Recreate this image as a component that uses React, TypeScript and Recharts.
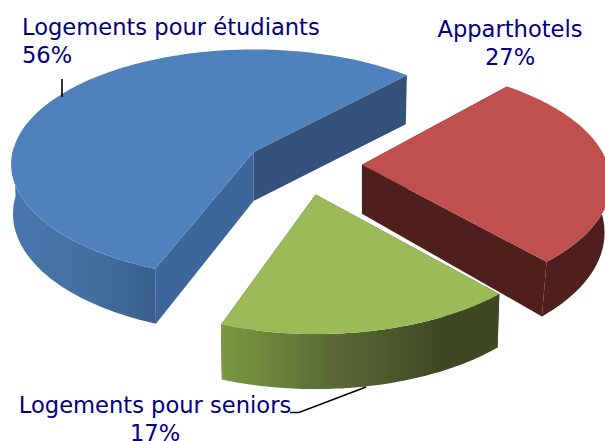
import React from "react";
import { PieChart, Pie } from "recharts";

const categories = ["Logements pour étudiants", "Apparthotels", "Logements pour seniors"];
const shares = [56, 27, 17];
const chartData = categories.map((name, i) => ({ name, value: shares[i] }));

// Drawing parameters of the tilted, exploded pie
const EXPLODE = 60;
const DEPTH = 49;
const RAD = Math.PI / 180;

const looks: Record<string, any> = {
  [categories[0]]: {
    top: "#4f81bd",
    hiFace: "#3d669a",
    loFace: "#33517b",
    wallStops: ["#4776ae", "#43709f", "#39608f"],
    wallRange: [12, 155],
    radiusScale: 0.98,
    tilt: 0.47,
    persp: 0.107,
    rotate: -2.2,
    nudgeY: 0,
    shrink: 0.993,
    depthGain: 60,
  },
  [categories[1]]: {
    top: "#c0504d",
    hiFace: "#4f1f1d",
    loFace: "#4f1f1d",
    wallStops: ["#4f1f1d", "#4f1f1d", "#4f1f1d"],
    wallRange: [540, 605],
    radiusScale: 1,
    tilt: 0.47,
    persp: 0.15,
    rotate: 0,
    nudgeY: 0,
    shrink: 0.975,
    depthGain: 50,
  },
  [categories[2]]: {
    top: "#9bbb59",
    hiFace: "#3f4a24",
    loFace: "#3f4a24",
    wallStops: ["#7b9a42", "#5c6b36", "#3e4923"],
    wallRange: [218, 440],
    radiusScale: 0.995,
    tilt: 0.485,
    persp: 0.15,
    rotate: 0,
    nudgeY: -3,
    shrink: 0.99,
    depthGain: 40,
  },
};

const labelLooks: Record<string, any> = {
  [categories[0]]: { x: 22, y: 35, anchor: "start", leader: "M62 79 L62 97" },
  [categories[1]]: { x: 510, y: 37, anchor: "middle", leader: "" },
  [categories[2]]: { x: 155, y: 413, anchor: "middle", leader: "M290 412.5 L299 412.5 L366 387" },
};

function rim(ax: number, ay: number, R: number, deg: number, look: any) {
  const s = Math.sin((deg + look.rotate) * RAD);
  const c = Math.cos((deg + look.rotate) * RAD);
  const w = 1 + look.persp * s;
  return { x: ax + (R * c) / w, y: ay - (R * look.tilt * s) / w, w };
}

function lower(ax: number, p: { x: number; y: number; w: number }, look: any) {
  const d = p.w >= 1 ? DEPTH : DEPTH + look.depthGain * (1 - p.w);
  return { x: ax + (p.x - ax) * look.shrink, y: p.y + d, w: p.w };
}

function arcPoints(ax: number, ay: number, R: number, from: number, to: number, look: any) {
  const pts = [];
  const n = Math.max(2, Math.ceil(Math.abs(to - from)));
  for (let i = 0; i <= n; i++) {
    pts.push(rim(ax, ay, R, from + ((to - from) * i) / n, look));
  }
  return pts;
}

const toPath = (pts: { x: number; y: number }[]) =>
  "M" + pts.map((p) => `${p.x.toFixed(2)} ${p.y.toFixed(2)}`).join("L") + "Z";

function Slice3D(props: any) {
  const { cx, cy, outerRadius, startAngle, endAngle, name } = props;
  const look = looks[name];
  const R = outerRadius * look.radiusScale;
  const hi = Math.max(startAngle, endAngle);
  const lo = Math.min(startAngle, endAngle);
  const mid = (hi + lo) / 2;
  const w = 1 + 0.15 * Math.sin(mid * RAD);
  const ax = cx + (EXPLODE * Math.cos(mid * RAD)) / w;
  const ay = cy - (EXPLODE * 0.47 * Math.sin(mid * RAD)) / w + look.nudgeY;

  const top = arcPoints(ax, ay, R, hi, lo, look);
  const apexPt = { x: ax, y: ay, w: 1 };
  const apexLow = lower(ax, apexPt, look);

  const hiPt = top[0];
  const loPt = top[top.length - 1];
  const hiFace = [apexPt, hiPt, lower(ax, hiPt, look), apexLow];
  const loFace = [apexPt, loPt, lower(ax, loPt, look), apexLow];

  // The outer wall only shows on the near half of the rim.
  const nearRanges: [number, number][] = [];
  for (const [a, b] of [
    [180, 360],
    [-180, 0],
  ] as [number, number][]) {
    const f = Math.max(a, lo);
    const t = Math.min(b, hi);
    if (t > f) nearRanges.push([f, t]);
  }
  const gid = `wall-${Math.round(ax)}`;
  const [g0, g1] = look.wallRange;

  return (
    <g>
      <defs>
        <linearGradient id={gid} gradientUnits="userSpaceOnUse" x1={g0} x2={g1} y1={0} y2={0}>
          <stop offset="0%" stopColor={look.wallStops[0]} />
          <stop offset="50%" stopColor={look.wallStops[1]} />
          <stop offset="100%" stopColor={look.wallStops[2]} />
        </linearGradient>
      </defs>
      <path d={toPath(loFace)} fill={look.loFace} />
      <path d={toPath(hiFace)} fill={look.hiFace} />
      {nearRanges.map(([f, t], i) => {
        const edge = arcPoints(ax, ay, R, f, t, look);
        const poly = [...edge, ...edge.map((p) => lower(ax, p, look)).reverse()];
        return <path key={i} d={toPath(poly)} fill={`url(#${gid})`} />;
      })}
      <path d={toPath([apexPt, ...top])} fill={look.top} />
    </g>
  );
}

function SliceLabel(props: any) {
  const { name, value } = props;
  const l = labelLooks[name];
  const font = "'DejaVu Sans', Verdana, sans-serif";
  return (
    <g>
      {l.leader ? <path d={l.leader} fill="none" stroke="#000" strokeWidth={1.6} /> : null}
      <text x={l.x} y={l.y} textAnchor={l.anchor} fontFamily={font} fontSize={22.6} fill="#000080">
        {name}
      </text>
      <text x={l.x} y={l.y + 27.5} textAnchor={l.anchor} fontFamily={font} fontSize={22.6} fill="#000080">
        {value}%
      </text>
    </g>
  );
}

export default function App() {
  return (
    <div style={{ position: "absolute", left: 0, top: 0, width: 605, height: 441, overflow: "hidden", background: "#fff" }}>
      <PieChart width={605} height={441} margin={{ top: 0, right: 0, bottom: 0, left: 0 }}>
        <Pie
          data={chartData}
          dataKey="value"
          nameKey="name"
          cx={302}
          cy={165}
          innerRadius={0}
          outerRadius={246}
          startAngle={250.6}
          endAngle={-109.4}
          stroke="none"
          isAnimationActive={false}
          shape={Slice3D}
          label={SliceLabel}
          labelLine={false}
        />
      </PieChart>
    </div>
  );
}
